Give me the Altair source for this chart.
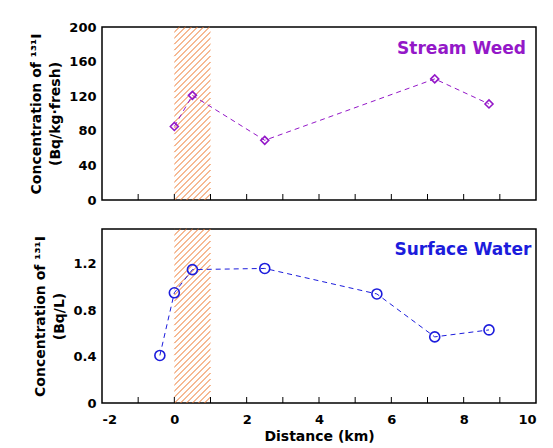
import altair as alt
import pandas as pd

# ---- data ----
weed_dist = [0.0, 0.5, 2.5, 7.2, 8.7]
weed_conc = [85, 121, 69, 140, 111]

water_dist = [-0.4, 0.0, 0.5, 2.5, 5.6, 7.2, 8.7]
water_conc = [0.41, 0.95, 1.15, 1.16, 0.94, 0.57, 0.63]

band_start = [0.0]
band_end = [1.0]
tick_pos = [-1, 0, 1, 2, 3, 4, 5, 6, 7, 8, 9]
x_labels = [-2, 0, 2, 4, 6, 8, 10]

W = 434
H1 = 173
H2 = 174
FONT = "DejaVu Sans"
PURPLE = "#9418C8"
BLUE = "#1C1CDC"
ORANGE = "#EE7428"

weed = pd.DataFrame({"d": weed_dist, "c": weed_conc})
water = pd.DataFrame({"d": water_dist, "c": water_conc})
ticks = pd.DataFrame({"t": tick_pos})


def hatch_df(ymax, height):
    # 45-degree hatch lines inside the band (pixel spacing ~6)
    x0, x1 = band_start[0], band_end[0]
    px_per_x = W / 12.0
    bw = (x1 - x0) * px_per_x
    rows = []
    c = -bw
    while c < height:
        u0 = max(0.0, -c)
        u1 = min(bw, height - c)
        if u1 > u0:
            rows.append({
                "x": x0 + u0 / px_per_x, "x2": x0 + u1 / px_per_x,
                "y": (u0 + c) / height * ymax, "y2": (u1 + c) / height * ymax,
            })
        c += 6.0
    return pd.DataFrame(rows)


xscale = alt.Scale(domain=[-2, 10], nice=False, zero=False)


def panel(df, ymax, height, yvals, ytitle, color, shape, size, label, lx, ly, show_x, yfmt):
    ysc = alt.Scale(domain=[0, ymax], nice=False)
    if show_x:
        xaxis = alt.Axis(values=x_labels, title="Distance (km)", ticks=False, domain=False,
                         grid=False, labelPadding=10, titlePadding=3, labelOverlap=False,
                         labelExpr="datum.value < 0 ? '-' + abs(datum.value) : datum.label")
    else:
        xaxis = None
    yaxis = alt.Axis(values=yvals, title=ytitle, ticks=False, domain=False, grid=False,
                     labelPadding=6, titlePadding=6, labelExpr=yfmt, labelOverlap=False)

    def X(f):
        return alt.X(f, scale=xscale, axis=xaxis)

    def Y(f):
        return alt.Y(f, scale=ysc, axis=yaxis)

    hatch = alt.Chart(hatch_df(ymax, height)).mark_rule(color=ORANGE, strokeWidth=1).encode(
        x=X("x:Q"), x2="x2:Q", y=Y("y:Q"), y2="y2:Q",
    )
    tk = alt.Chart(ticks).mark_rule(color="black", strokeWidth=1).encode(
        x=X("t:Q"),
        y=alt.value(height),
        y2=alt.value(height - 6),
    )
    line = alt.Chart(df).mark_line(color=color, strokeWidth=1, strokeDash=[5, 4]).encode(
        x=X("d:Q"), y=Y("c:Q"),
    )
    pts = alt.Chart(df).mark_point(shape=shape, size=size, filled=False, color=color,
                                   strokeWidth=1.6, opacity=1).encode(
        x=X("d:Q"), y=Y("c:Q"),
    )
    txt = alt.Chart(pd.DataFrame({"x": [lx], "y": [ly], "t": [label]})).mark_text(
        align="right", baseline="middle", font=FONT, fontWeight="bold", fontSize=17, color=color
    ).encode(x=X("x:Q"), y=Y("y:Q"), text="t:N")
    return alt.layer(hatch, tk, line, pts, txt).properties(width=W, height=height)


top = panel(weed, 200, H1, [0, 40, 80, 120, 160, 200],
            ["Concentration of \u00b9\u00b3\u00b9I", "(Bq/kg\u00b7fresh)"],
            PURPLE, "diamond", 64, "Stream Weed", 9.72, 175, False, "datum.label")
bottom = panel(water, 1.5, H2, [0, 0.4, 0.8, 1.2],
               ["Concentration of \u00b9\u00b3\u00b9I", "(Bq/L)"],
               BLUE, "circle", 100, "Surface Water", 9.87, 1.32, True,
               "datum.value == 0 ? '0' : format(datum.value, '.1f')")

chart = alt.vconcat(top, bottom, spacing=29, bounds="flush").properties(
    padding={"top": 12, "left": 21, "right": 5, "bottom": 0}
).configure_view(
    stroke="black", strokeWidth=1.5
).configure_axis(
    labelFont=FONT, labelFontWeight="bold", labelFontSize=13, labelColor="black",
    titleFont=FONT, titleFontWeight="bold", titleFontSize=14, titleColor="black",
    titleLineHeight=19,
)

chart.save("out.html", embed_options={"renderer": "svg", "actions": False})
